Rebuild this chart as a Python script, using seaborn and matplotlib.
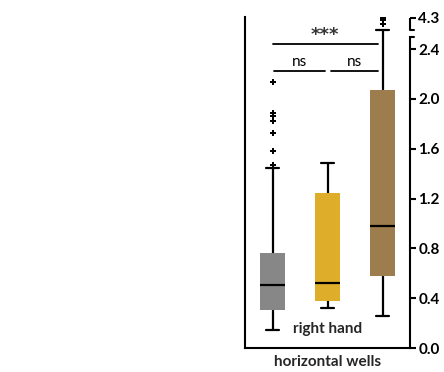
import numpy as np
import pandas as pd
import matplotlib
matplotlib.use("Agg")
import matplotlib.pyplot as plt
import matplotlib.transforms as mtransforms
import seaborn as sns

# ---- data -------------------------------------------------------------
groups = ["A", "B", "C"]
colors = ["#878787", "#DEAE2B", "#9D7C4D"]

whisker_low = [0.145, 0.32, 0.257]
q1 = [0.305, 0.377, 0.578]
median = [0.506, 0.52, 0.98]
q3 = [0.76, 1.245, 2.07]
whisker_high = [1.446, 1.486, 4.20]

outliers_a = [1.47, 1.58, 1.73, 1.82, 1.86, 1.89, 2.14]
outliers_b = []
outliers_c = [4.25, 4.28, 4.30]

ytick_values = [0.0, 0.4, 0.8, 1.2, 1.6, 2.0, 2.4, 4.3]
ytick_labels = ["0.0", "0.4", "0.8", "1.2", "1.6", "2.0", "2.4", "4.3"]

# significance brackets: (x start, x end, y, label)
brackets = [
    (0.0, 1.92, 2.44, "***"),
    (0.03, 0.96, 2.225, "ns"),
    (1.07, 1.92, 2.225, "ns"),
]

# ---- tidy frames ------------------------------------------------------
box_rows = []
for g, lo, a, m, b, hi in zip(groups, whisker_low, q1, median, q3, whisker_high):
    for v in (lo, a, m, b, hi):
        box_rows.append({"group": g, "value": v})
box_df = pd.DataFrame(box_rows)

out_rows = []
for g, vals in zip(groups, [outliers_a, outliers_b, outliers_c]):
    for v in vals:
        out_rows.append({"group": g, "value": v})
out_df = pd.DataFrame(out_rows)

# ---- broken y scale: 0-2.5 linear, compressed gap, short top segment ----
px_per_unit = 124.5
V_KNOTS = np.array([0.0, 2.5, 4.2, 4.3])
U_KNOTS = np.array([0.0, 2.5, 2.5 + 7 / px_per_unit, 2.5 + 19 / px_per_unit])


def _piecewise(x, xs, ys):
    x = np.asarray(x, dtype=float)
    y = np.interp(x, xs, ys)
    s_lo = (ys[1] - ys[0]) / (xs[1] - xs[0])
    s_hi = (ys[-1] - ys[-2]) / (xs[-1] - xs[-2])
    y = np.where(x < xs[0], ys[0] + (x - xs[0]) * s_lo, y)
    y = np.where(x > xs[-1], ys[-1] + (x - xs[-1]) * s_hi, y)
    return y


def fwd(v):
    return _piecewise(v, V_KNOTS, U_KNOTS)


def inv(u):
    return _piecewise(u, U_KNOTS, V_KNOTS)


# ---- figure -----------------------------------------------------------
sns.set_style("white")
plt.rcParams["font.family"] = ["Lato", "DejaVu Sans"]

fig = plt.figure(figsize=(4.44, 3.72), dpi=100)
W, H = 444, 372
left, right, bottom, top = 245, 410, 348, 17
ax = fig.add_axes([left / W, 1 - bottom / H, (right - left) / W, (bottom - top) / H])

sns.boxplot(
    data=box_df, x="group", y="value", hue="group", order=groups,
    hue_order=groups, palette=colors, saturation=1, legend=False, width=0.45,
    whis=(0, 100), showfliers=False, linecolor="black", linewidth=1.6,
    boxprops=dict(linewidth=0), ax=ax,
)
sns.stripplot(
    data=out_df, x="group", y="value", order=groups, jitter=False,
    color="black", marker="P", size=4, linewidth=0, ax=ax,
)

ax.set_yscale("function", functions=(fwd, inv))
u_top = (bottom - top) / px_per_unit
ax.set_ylim(0, float(inv(u_top)))
ax.set_xlim(-0.5, 2.5)

# axes styling
ax.yaxis.tick_right()
ax.set_yticks(ytick_values)
ax.set_yticklabels(ytick_labels, fontweight="bold", fontsize=11)
ax.yaxis.set_minor_locator(matplotlib.ticker.NullLocator())
ax.tick_params(axis="y", which="major", direction="out", length=4, width=1.5,
               pad=2, colors="black", right=True, left=False)
ax.tick_params(axis="x", length=0, labelbottom=False)
ax.set_xticks([])
ax.set_ylabel("")
ax.set_xlabel("horizontal wells", fontsize=11, fontweight="bold", labelpad=5)

for side in ("left", "bottom", "right"):
    ax.spines[side].set_visible(True)
    ax.spines[side].set_linewidth(1.5)
    ax.spines[side].set_color("black")
ax.spines["top"].set_visible(False)
ax.spines["right"].set_bounds(0, 2.5)

# upper piece of the broken right axis with its break serifs
blend = mtransforms.blended_transform_factory(ax.transAxes, ax.transData)
serif = 4 / (right - left)
ax.plot([1, 1], [4.2, 4.3], transform=blend, color="black", lw=1.5,
        clip_on=False, solid_capstyle="butt")
ax.plot([1, 1 + serif], [4.2, 4.2], transform=blend, color="black", lw=1.5,
        clip_on=False)
ax.plot([1, 1 + serif], [2.5, 2.5], transform=blend, color="black", lw=1.5,
        clip_on=False)

# significance annotations
for x0, x1, y, label in brackets:
    ax.plot([x0, x1], [y, y], color="black", lw=1.3, clip_on=False)
    if label.startswith("*"):
        ax.text((x0 + x1) / 2, y + 0.03, label, ha="center", va="baseline",
                fontsize=13, fontweight="bold", color="#333333",
                family="DejaVu Sans")
    else:
        ax.text((x0 + x1) / 2, y + 0.04, label, ha="center", va="baseline",
                fontsize=11, color="black")

ax.text(0.5, 0.035, "right hand", transform=ax.transAxes, ha="center",
        va="bottom", fontsize=11, fontweight="bold")

fig.savefig("out.png", dpi=100)
